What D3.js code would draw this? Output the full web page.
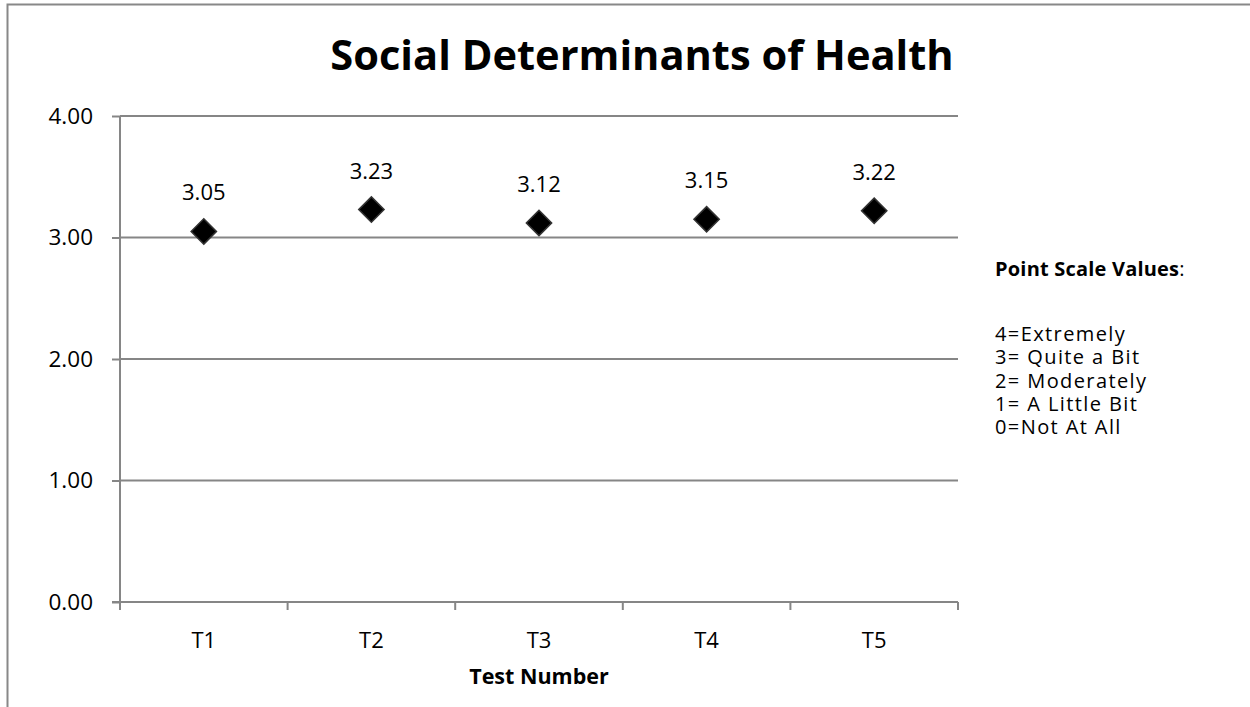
<!DOCTYPE html>
<html>
<head>
<meta charset="utf-8">
<script src="https://cdn.jsdelivr.net/npm/d3@7"></script>
<style>
  html, body { margin: 0; padding: 0; background: #fff; }
  svg { display: block; }
  text { font-family: "Open Sans", Lato, sans-serif; fill: #000; }
</style>
</head>
<body>
<svg id="chart" width="1250" height="707"></svg>
<script>
// Mean scores per test administration
const categories = ["T1", "T2", "T3", "T4", "T5"];
const values = [3.05, 3.23, 3.12, 3.15, 3.22];
const yTicks = [0, 1, 2, 3, 4];
const chartTitle = "Social Determinants of Health";
const xTitle = "Test Number";
const legendTitle = "Point Scale Values";
const legendLines = ["4=Extremely", "3= Quite a Bit", "2= Moderately", "1= A Little Bit", "0=Not At All"];

const svg = d3.select("#chart");
const gridColor = "#868686";
const font = "'Open Sans', Lato, sans-serif";

// outer chart frame (continues past the right and bottom edges)
svg.append("rect")
  .attr("x", 7.5).attr("y", 4.5)
  .attr("width", 1300).attr("height", 800)
  .attr("fill", "#fff")
  .attr("stroke", "#888").attr("stroke-width", 2);

// clipped caption descender above the frame
svg.append("text")
  .attr("x", 31).attr("y", -5)
  .style("font-size", "20px")
  .text("g");

const plot = { left: 120, right: 958, top: 116, bottom: 602 };

const x = d3.scaleBand().domain(categories).range([plot.left, plot.right]).padding(0);
const y = d3.scaleLinear().domain([0, 4]).range([plot.bottom, plot.top]);

// horizontal gridlines
svg.append("g").selectAll("line").data(yTicks.filter(d => d > 0)).join("line")
  .attr("x1", plot.left).attr("x2", plot.right)
  .attr("y1", d => y(d)).attr("y2", d => y(d))
  .attr("stroke", gridColor).attr("stroke-width", 2);

// y axis
const yAxis = svg.append("g")
  .attr("transform", `translate(${plot.left},0)`)
  .call(d3.axisLeft(y).tickValues(yTicks).tickFormat(d3.format(".2f")).tickSize(8).tickPadding(19));
yAxis.select(".domain").attr("stroke", gridColor).attr("stroke-width", 2).attr("d", `M0,${plot.top}V${plot.bottom}`);
yAxis.selectAll(".tick line").attr("stroke", gridColor).attr("stroke-width", 2);
yAxis.selectAll(".tick text").style("font-size", "22.5px").style("font-family", font).attr("fill", "#000");

// x axis with boundary ticks between categories
const xAxisG = svg.append("g").attr("transform", `translate(0,${plot.bottom})`);
xAxisG.append("line")
  .attr("x1", plot.left - 8).attr("x2", plot.right)
  .attr("stroke", gridColor).attr("stroke-width", 2);
const bounds = categories.map(c => x(c)).concat([x(categories[categories.length - 1]) + x.bandwidth()]);
xAxisG.selectAll("line.tk").data(bounds).join("line").attr("class", "tk")
  .attr("x1", d => d).attr("x2", d => d)
  .attr("y1", 0).attr("y2", 8)
  .attr("stroke", gridColor).attr("stroke-width", 2);
xAxisG.selectAll("text").data(categories).join("text")
  .attr("x", d => x(d) + x.bandwidth() / 2)
  .attr("y", 46)
  .attr("text-anchor", "middle")
  .style("font-size", "22px")
  .text(d => d);

// markers
const pts = categories.map((c, i) => ({ c, v: values[i] }));
svg.append("g").selectAll("path").data(pts).join("path")
  .attr("transform", d => `translate(${x(d.c) + x.bandwidth() / 2},${y(d.v)}) rotate(45)`)
  .attr("d", d3.symbol().type(d3.symbolSquare).size(320))
  .attr("fill", "#000").attr("stroke", "#333").attr("stroke-width", 1.5);

// data labels
svg.append("g").selectAll("text").data(pts).join("text")
  .attr("x", d => x(d.c) + x.bandwidth() / 2)
  .attr("y", d => y(d.v) - 31)
  .attr("text-anchor", "middle")
  .style("font-size", "22px")
  .text(d => d.v.toFixed(2));

// title
svg.append("text")
  .attr("x", 642).attr("y", 70)
  .attr("text-anchor", "middle")
  .style("font-size", "41.6px").style("font-weight", "bold")
  .text(chartTitle);

// x-axis title
svg.append("text")
  .attr("x", 539).attr("y", 684)
  .attr("text-anchor", "middle")
  .style("font-size", "21.5px").style("font-weight", "bold")
  .text(xTitle);

// scale legend
const lg = svg.append("text").attr("x", 995).attr("y", 276)
  .style("font-size", "20px").style("letter-spacing", "0.2px");
lg.append("tspan").style("font-weight", "bold").text(legendTitle);
lg.append("tspan").text(":");
svg.append("g").selectAll("text").data(legendLines).join("text")
  .attr("x", 995)
  .attr("y", (d, i) => 341 + i * 23.3)
  .style("font-size", "20px").style("letter-spacing", "1.4px")
  .text(d => d);
</script>
</body>
</html>
